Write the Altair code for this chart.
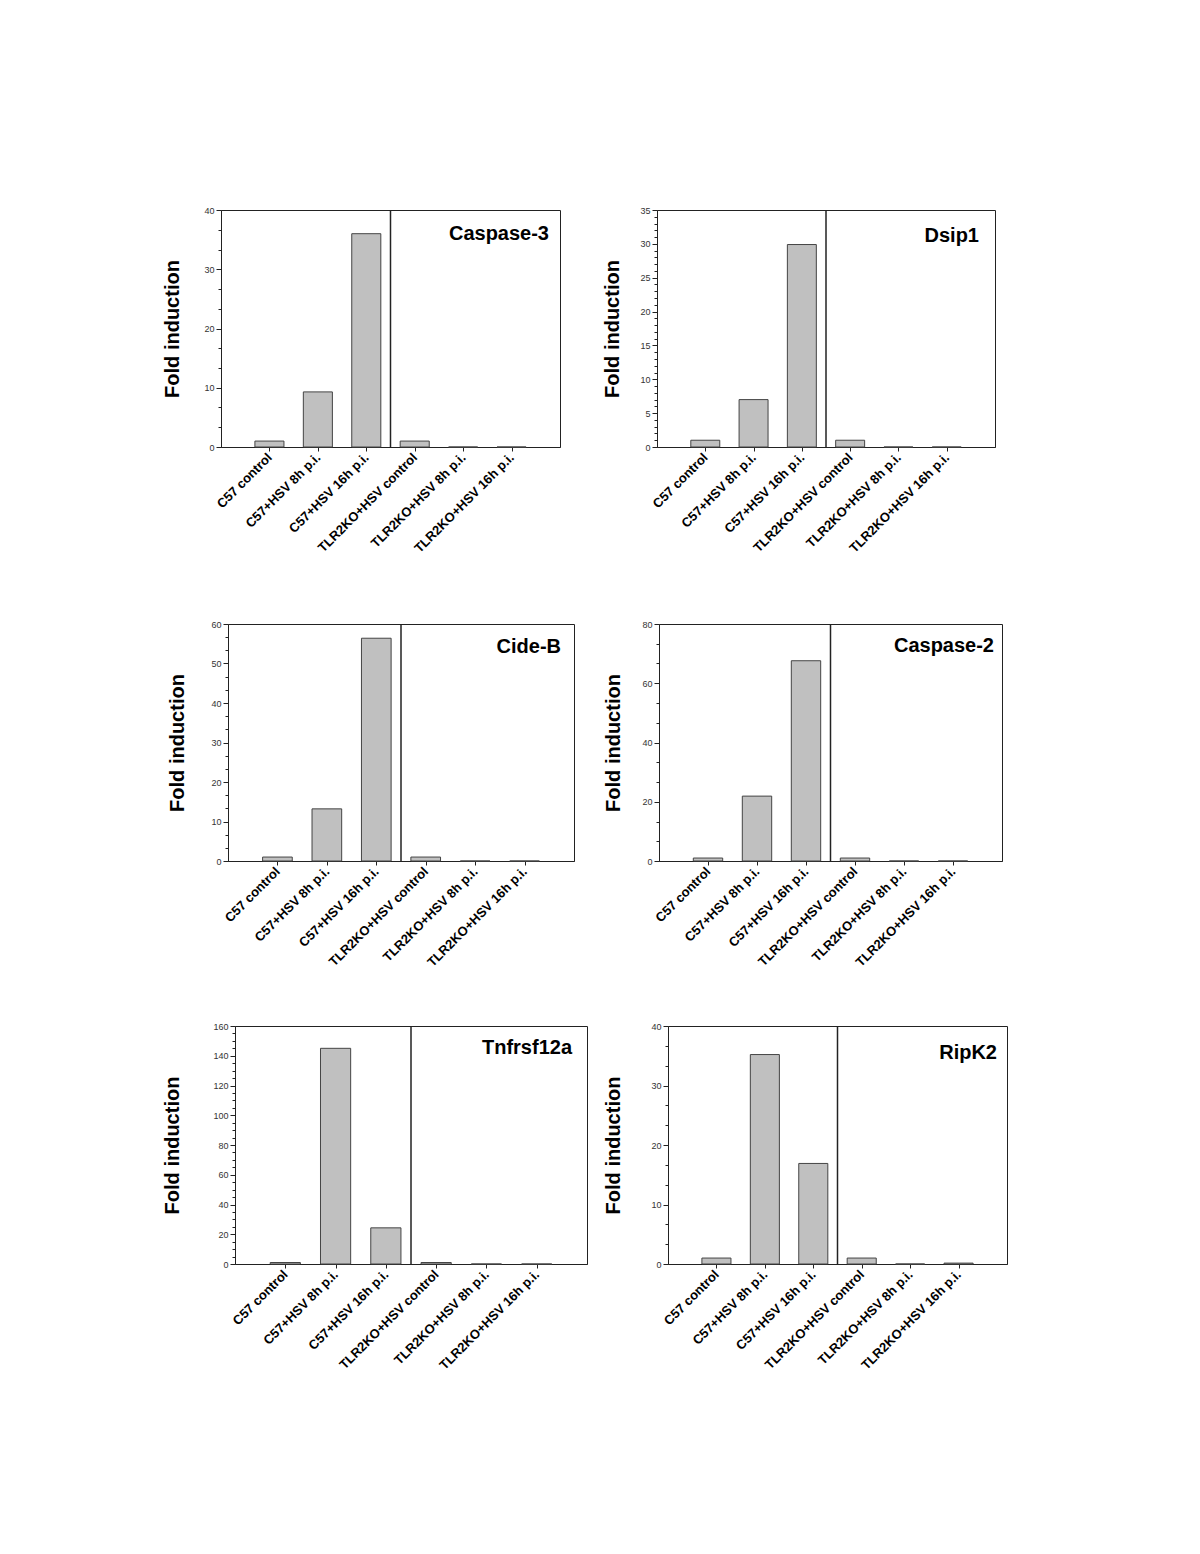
import altair as alt
import pandas as pd

# ---- data ----
categories = ["C57 control", "C57+HSV 8h p.i.", "C57+HSV 16h p.i.",
              "TLR2KO+HSV control", "TLR2KO+HSV 8h p.i.", "TLR2KO+HSV 16h p.i."]
positions = [1, 2, 3, 4, 5, 6]
genes = ["Caspase-3", "Dsip1", "Cide-B", "Caspase-2", "Tnfrsf12a", "RipK2"]
caspase3 = [1.0, 9.3, 36.0, 1.0, 0.0, 0.0]
dsip1 = [1.0, 7.0, 29.9, 1.0, 0.0, 0.0]
cideb = [1.0, 13.2, 56.4, 1.0, 0.0, 0.0]
caspase2 = [1.0, 21.9, 67.6, 1.0, 0.0, 0.0]
tnfrsf12a = [1.0, 145.0, 24.3, 1.0, 0.0, 0.0]
ripk2 = [1.0, 35.2, 16.9, 1.0, 0.0, 0.15]
series = [caspase3, dsip1, cideb, caspase2, tnfrsf12a, ripk2]
y_max = [40, 35, 60, 80, 160, 40]
y_major = [10, 5, 10, 20, 20, 10]
y_minor_div = [3, 5, 3, 3, 4, 3]

# ---- layout (plot-area sizes and small per-panel tweaks) ----
widths = [339, 338, 346, 343, 352, 339]
heights = [237, 237, 237, 237, 238, 238]
title_pad = [21, 17, 23, 18, 30, 27]
name_inset = [11, 16, 13, 8, 15, 10]
name_base = [30, 32, 29, 28, 28, 33]

FONT = "Liberation Sans"
DARK = "#222222"


def panel(i):
    vals = series[i]
    df = pd.DataFrame({"pos": positions, "label": categories, "value": vals})
    w, h = widths[i], heights[i]
    step = y_major[i]
    minor = step / y_minor_div[i]
    n = int(round(y_max[i] / minor))
    tick_vals = [round(k * minor, 6) for k in range(n + 1)]
    is_major = f"abs(datum.value/{step} - round(datum.value/{step})) < 0.001"
    label_arr = "[" + ",".join(["''"] + [f"'{c}'" for c in categories]) + "]"

    xscale = alt.Scale(domain=[0, 7], nice=False, zero=False)
    yscale = alt.Scale(domain=[0, y_max[i]], nice=False)

    bars = alt.Chart(df).transform_calculate(
        x0="datum.pos - 0.3", x1="datum.pos + 0.3", base="0"
    ).mark_bar(fill="#c0c0c0", stroke="#444444", strokeWidth=1).encode(
        x=alt.X("x0:Q", scale=xscale, title=None,
                axis=alt.Axis(values=positions, labelExpr=f"{label_arr}[datum.value]",
                              labelAngle=-45, labelAlign="right", labelBaseline="middle",
                              labelFontSize=13, labelFontWeight="bold", labelFont=FONT,
                              labelColor="#000000", labelPadding=4, tickSize=4,
                              labelOverlap=False, labelBound=False, labelFlush=False,
                              grid=False, domainColor=DARK, tickColor=DARK)),
        x2="x1:Q",
        y=alt.Y("value:Q", scale=yscale, title="Fold induction",
                axis=alt.Axis(values=tick_vals,
                              labelExpr=f"{is_major} ? datum.label : ''",
                              tickSize={"condition": {"test": is_major, "value": 5}, "value": 3},
                              labelFontSize=9, labelFont=FONT, labelColor="#333333",
                              labelPadding=2, grid=False, domainColor=DARK, tickColor=DARK,
                              titleFontSize=20, titleFontWeight="bold", titleFont=FONT,
                              titleColor="#000000", titlePadding=title_pad[i],
                              labelOverlap=False)),
        y2="base:Q",
    )

    divider = alt.Chart(pd.DataFrame({"d": [3.5]})).mark_rule(
        color="#222222", strokeWidth=1.5
    ).encode(x=alt.X("d:Q", scale=xscale))

    name = alt.Chart(pd.DataFrame({"g": [genes[i]]})).mark_text(
        align="right", baseline="alphabetic", fontSize=20, fontWeight="bold",
        font=FONT, color="#000000"
    ).encode(text="g:N", x=alt.value(w - name_inset[i]), y=alt.value(name_base[i]))

    return alt.layer(bars, divider, name).properties(
        width=w, height=h, view=alt.ViewBackground(stroke=DARK, strokeWidth=1)
    )


def spacer(w, h):
    return alt.Chart(pd.DataFrame({"s": [0]})).mark_point(opacity=0, size=1).encode(
        x=alt.value(0), y=alt.value(0)
    ).properties(width=w, height=h,
                 view=alt.ViewBackground(stroke="transparent", strokeWidth=0))


row1 = alt.hconcat(panel(0), spacer(97, 1), panel(1), spacing=0, bounds="flush")
row2 = alt.hconcat(spacer(7, 1), panel(2), spacer(85, 1), panel(3), spacing=0, bounds="flush")
row3 = alt.hconcat(spacer(14, 1), panel(4), spacer(81, 1), panel(5), spacing=0, bounds="flush")

top_rows = alt.vconcat(row1, row2, spacing=63)
chart = alt.vconcat(top_rows, row3, spacing=51).properties(
    padding={"left": 154, "top": 197, "right": 20, "bottom": 40}
).configure_view(stroke="transparent").configure(background="white")

chart.save("out.html", embed_options={"renderer": "svg", "actions": False})
